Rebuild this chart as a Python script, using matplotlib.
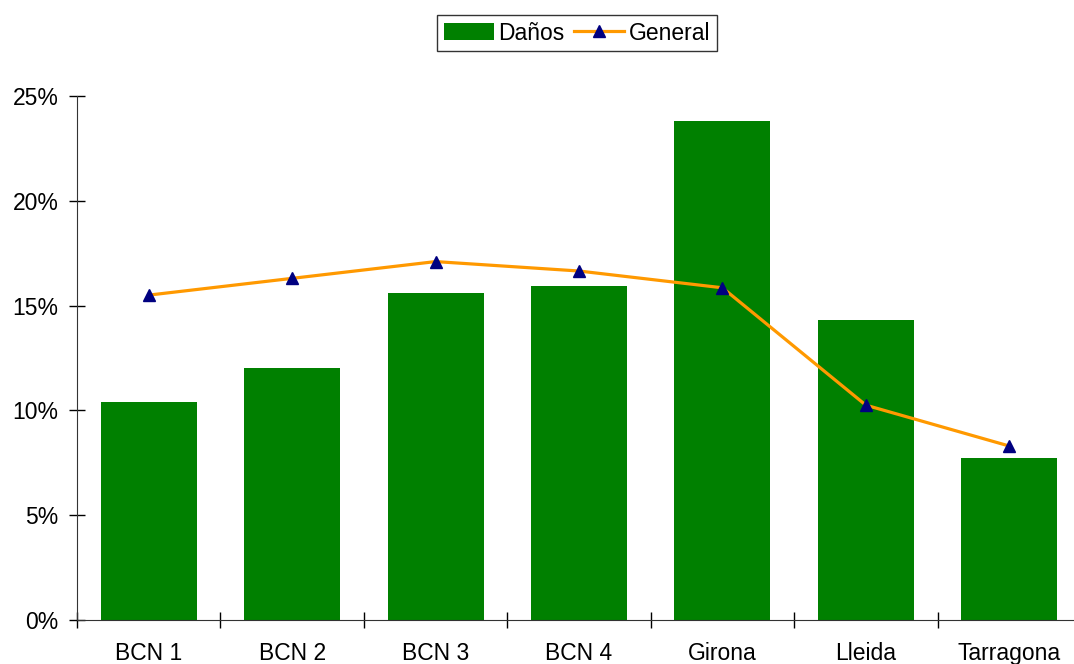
import matplotlib.pyplot as plt
from matplotlib.ticker import FuncFormatter

plt.rcParams['font.family'] = ['Liberation Sans', 'DejaVu Sans']

zonas = ['BCN 1', 'BCN 2', 'BCN 3', 'BCN 4', 'Girona', 'Lleida', 'Tarragona']
danos = [10.4, 12.0, 15.6, 15.95, 23.8, 14.3, 7.75]
general = [15.5, 16.3, 17.1, 16.65, 15.85, 10.25, 8.3]

fig = plt.figure(figsize=(10.74, 6.64), dpi=100)
ax = fig.add_axes([77 / 1074, 44 / 664, 1004 / 1074, 524 / 664])

x = range(len(zonas))
barras = ax.bar(x, danos, width=0.67, color='#008000', label='Daños', zorder=2)
linea, = ax.plot(x, general, color='#FF9900', linewidth=2.3, marker='^', markersize=9,
                 markerfacecolor='#000080', markeredgecolor='#000080', label='General', zorder=3)

ax.set_xlim(-0.5, len(zonas) - 0.5)
ax.set_ylim(0, 25)
ax.set_yticks([0, 5, 10, 15, 20, 25])
ax.yaxis.set_major_formatter(FuncFormatter(lambda v, p: '%d%%' % v))
ax.set_xticks(x)
ax.set_xticklabels(zonas)
ax.set_xticks([i + 0.5 for i in range(-1, len(zonas))], minor=True)

ax.tick_params(axis='y', direction='inout', length=11, width=1, labelsize=16.5, pad=8)
ax.tick_params(axis='x', which='major', length=0, labelsize=16.5, pad=16)
ax.tick_params(axis='x', which='minor', direction='inout', length=11, width=1)

for s in ['top', 'right']:
    ax.spines[s].set_visible(False)
for s in ['left', 'bottom']:
    ax.spines[s].set_color('#333333')

fig.legend([barras, linea], ['Daños', 'General'], loc='center',
           bbox_to_anchor=(577 / 1074, 1 - 33 / 664), ncol=2,
           fontsize=16.5, frameon=True, fancybox=False, edgecolor='black',
           handlelength=2.2, handletextpad=0.2, columnspacing=0.4,
           borderpad=0.3, borderaxespad=0)

fig.savefig('out.png', dpi=100)
